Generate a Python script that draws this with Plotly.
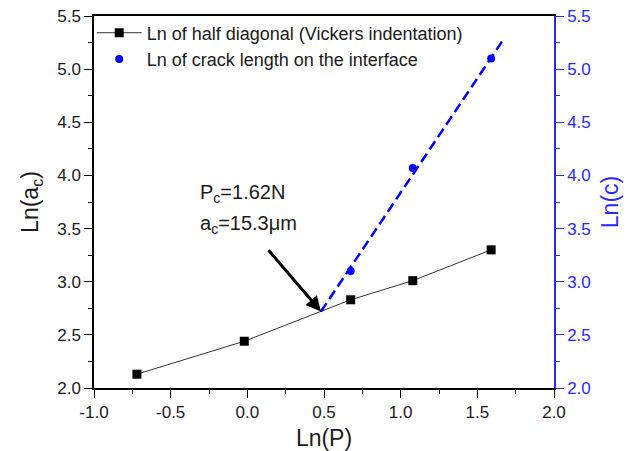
import plotly.graph_objects as go

# Data
ln_p_half = [-0.72, -0.02, 0.674, 1.079, 1.59]
ln_half_diag = [2.13, 2.44, 2.83, 3.01, 3.30]

ln_p_crack = [0.674, 1.079, 1.59]
ln_crack = [3.10, 4.07, 5.10]

fit_x = [0.48, 1.675]
fit_y = [2.72, 5.29]

arrow_tip = (0.48, 2.72)
arrow_tail = (0.13, 3.31)

x_tickvals = [-1.0, -0.5, 0.0, 0.5, 1.0, 1.5, 2.0]
x_ticktext = ["-1.0", "-0.5", "0.0", "0.5", "1.0", "1.5", "2.0"]

FONT = "Arial, Liberation Sans, sans-serif"
BLUE_AX = "rgb(40,40,255)"
TXT = "#1a1a1a"

fig = go.Figure()
fig.add_trace(go.Scatter(
    x=ln_p_half, y=ln_half_diag, mode="lines+markers",
    name="Ln of half diagonal (Vickers indentation)",
    line=dict(color="#333333", width=1),
    marker=dict(symbol="square", size=9, color="black"),
))
fig.add_trace(go.Scatter(
    x=ln_p_crack, y=ln_crack, mode="markers",
    name="Ln of crack length on the interface",
    marker=dict(symbol="circle", size=8, color="blue"),
    yaxis="y2",
))
fig.add_trace(go.Scatter(
    x=fit_x, y=fit_y, mode="lines", showlegend=False,
    line=dict(color="blue", width=2.5, dash="10px,5px"),
    yaxis="y2",
))

fig.add_annotation(
    x=arrow_tip[0], y=arrow_tip[1], ax=arrow_tail[0], ay=arrow_tail[1],
    xref="x", yref="y", axref="x", ayref="y",
    showarrow=True, arrowhead=2, arrowsize=1, arrowwidth=3, arrowcolor="black",
    text="",
)
fig.add_annotation(
    x=-0.32, y=3.83, xref="x", yref="y", xanchor="left", yanchor="middle",
    text="P<sub>c</sub>=1.62N", showarrow=False,
    font=dict(family=FONT, size=20, color=TXT),
)
fig.add_annotation(
    x=-0.32, y=3.54, xref="x", yref="y", xanchor="left", yanchor="middle",
    text="a<sub>c</sub>=15.3μm", showarrow=False,
    font=dict(family=FONT, size=20, color=TXT),
)

tickfont = dict(family=FONT, size=17, color=TXT)
fig.update_layout(
    width=634, height=451,
    margin=dict(l=94, r=80, t=16, b=63, autoexpand=False),
    paper_bgcolor="white", plot_bgcolor="white",
    font=dict(family=FONT),
    showlegend=True,
    legend=dict(
        x=-0.005, y=1.004, xanchor="left", yanchor="top",
        bgcolor="rgba(0,0,0,0)", borderwidth=0,
        font=dict(family=FONT, size=18, color=TXT),
        itemwidth=45,
    ),
    xaxis=dict(
        range=[-1.0, 2.0], tickvals=x_tickvals, ticktext=x_ticktext,
        showgrid=False, zeroline=False, automargin=False,
        showline=True, linecolor="black", linewidth=1.5, mirror=True,
        ticks="outside", ticklen=8, tickwidth=1.2, tickcolor="black",
        minor=dict(dtick=0.25, tick0=0, ticklen=4, tickwidth=1.2, tickcolor="black", ticks="outside"),
        tickfont=tickfont,
        title=dict(text="Ln(P)", font=dict(family=FONT, size=23, color=TXT), standoff=10),
    ),
    yaxis=dict(
        range=[2.0, 5.5], dtick=0.5, tick0=0, tickformat=".1f",
        showgrid=False, zeroline=False, automargin=False,
        showline=True, linecolor="black", linewidth=1.5,
        ticks="outside", ticklen=8, tickwidth=1.2, tickcolor="black",
        minor=dict(dtick=0.25, ticklen=4, tickwidth=1.2, tickcolor="black", ticks="outside"),
        tickfont=tickfont,
        title=dict(text="Ln(a<sub>c</sub>)", font=dict(family=FONT, size=23, color=TXT), standoff=12),
    ),
    yaxis2=dict(
        range=[2.0, 5.5], dtick=0.5, tick0=0, tickformat=".1f",
        overlaying="y", side="right", anchor="x",
        showgrid=False, zeroline=False, automargin=False,
        showline=True, linecolor=BLUE_AX, linewidth=1.5,
        ticks="outside", ticklen=8, tickwidth=1.2, tickcolor=BLUE_AX,
        minor=dict(dtick=0.25, ticklen=4, tickwidth=1.2, tickcolor=BLUE_AX, ticks="outside"),
        tickfont=dict(family=FONT, size=17, color=BLUE_AX),
        title=dict(text="Ln(c)", font=dict(family=FONT, size=23, color=BLUE_AX), standoff=12),
    ),
)

fig.write_html("out.html")
